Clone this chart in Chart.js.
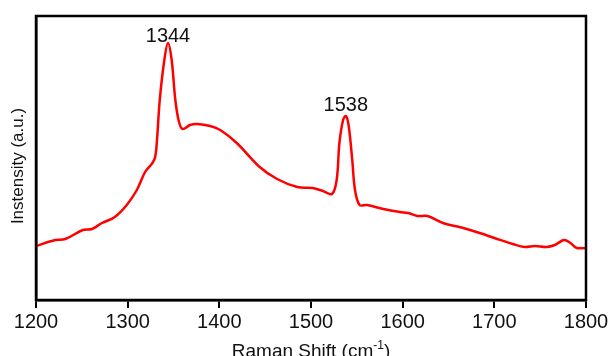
<!DOCTYPE html>
<html>
<head>
<meta charset="utf-8">
<script src="https://cdn.jsdelivr.net/npm/chart.js@4"></script>
<style>
  html, body { margin: 0; padding: 0; background: #fff; }
  #wrap { width: 609px; height: 356px; }
</style>
</head>
<body>
<div id="wrap"><canvas id="raman" width="609" height="356"></canvas></div>
<script>
// Raman shift (cm-1) and intensity (a.u.)
const shift = [
    1200, 1221, 1232, 1251, 1261, 1272, 1286, 1299, 1310, 1319,
    1327, 1330, 1332, 1335, 1340, 1344, 1348, 1352, 1356, 1360,
    1368, 1376, 1390, 1401, 1419, 1444, 1463, 1485, 1502, 1513,
    1523, 1528, 1531, 1535, 1538, 1541, 1545, 1548, 1553, 1561,
    1579, 1597, 1606, 1616, 1627, 1644, 1666, 1684, 1703, 1720,
    1733, 1744, 1757, 1766, 1776, 1783, 1790, 1800
];
const intensity = [
    54, 60, 61, 70, 71, 77, 83, 95, 110, 128,
    137, 143, 160, 200, 240, 257, 240, 200, 178, 171,
    175, 176, 174, 170, 157, 133, 121, 113, 112, 109,
    106, 120, 157, 180, 184, 175, 140, 110, 95, 95,
    91, 88, 87, 84, 84, 77, 72, 67, 61, 56,
    53, 54, 53, 55, 60, 57, 52, 52
];
const xTicks = [1200, 1300, 1400, 1500, 1600, 1700, 1800];
const peakLabels = [1344, 1538];
const peakGap = [1, 5];

const fontFamily = '"Liberation Sans", Arial, sans-serif';

// frame around the plot, peak labels and axis titles
const framePlugin = {
    id: 'frame',
    afterDatasetsDraw(chart) {
        const { ctx, chartArea: a, scales } = chart;
        ctx.save();
        ctx.strokeStyle = '#000';
        ctx.lineWidth = 2.5;
        ctx.strokeRect(a.left, a.top, a.right - a.left, a.bottom - a.top);

        ctx.fillStyle = '#111';
        ctx.font = '20px ' + fontFamily;
        ctx.textAlign = 'center';
        ctx.textBaseline = 'alphabetic';
        peakLabels.forEach((p, k) => {
            const i = shift.indexOf(p);
            const px = scales.x.getPixelForValue(p);
            const py = scales.y.getPixelForValue(intensity[i]);
            ctx.fillText(String(p), px, py - peakGap[k]);
        });

        // x title with superscript
        const main = 'Raman Shift (cm';
        const sup = '-1';
        const end = ')';
        ctx.font = '19px ' + fontFamily;
        const wMain = ctx.measureText(main).width;
        const wEnd = ctx.measureText(end).width;
        ctx.font = '12px ' + fontFamily;
        const wSup = ctx.measureText(sup).width;
        const total = wMain + wSup + wEnd;
        let tx = (a.left + a.right) / 2 - total / 2;
        const ty = 357;
        ctx.textAlign = 'left';
        ctx.font = '19px ' + fontFamily;
        ctx.fillText(main, tx, ty);
        tx += wMain;
        ctx.font = '12px ' + fontFamily;
        ctx.fillText(sup, tx, ty - 8);
        tx += wSup;
        ctx.font = '19px ' + fontFamily;
        ctx.fillText(end, tx, ty);

        // y title
        ctx.translate(18, 166);
        ctx.rotate(-Math.PI / 2);
        ctx.font = '17px ' + fontFamily;
        ctx.textAlign = 'center';
        ctx.textBaseline = 'middle';
        ctx.fillText('Instensity (a.u.)', 0, 0);
        ctx.restore();
    }
};

new Chart(document.getElementById('raman').getContext('2d'), {
    type: 'line',
    data: {
        datasets: [{
            data: shift.map((s, i) => ({ x: s, y: intensity[i] })),
            borderColor: '#ff0000',
            borderWidth: 2.5,
            pointRadius: 0,
            tension: 0.35,
            fill: false
        }]
    },
    options: {
        responsive: false,
        animation: false,
        layout: { padding: { top: 16, right: 23, left: 0, bottom: 0 } },
        plugins: {
            legend: { display: false },
            tooltip: { enabled: false }
        },
        scales: {
            x: {
                type: 'linear',
                min: 1200,
                max: 1800,
                afterBuildTicks: scale => { scale.ticks = xTicks.map(v => ({ value: v })); },
                afterFit: scale => { scale.height = 56; scale.paddingRight = 0; scale.paddingLeft = 0; },
                grid: {
                    drawOnChartArea: false,
                    drawTicks: true,
                    tickLength: 8,
                    color: '#000',
                    lineWidth: 2
                },
                border: { display: true, color: '#000', width: 2.5 },
                ticks: {
                    color: '#111',
                    font: { family: fontFamily, size: 20 },
                    padding: 2,
                    maxRotation: 0,
                    callback: v => String(v)
                },
                title: { display: false }
            },
            y: {
                min: 0,
                max: 284,
                afterFit: scale => { scale.width = 36; },
                grid: { display: false },
                border: { display: true, color: '#000', width: 2.5 },
                ticks: { display: false },
                title: { display: false }
            }
        }
    },
    plugins: [framePlugin]
});
</script>
</body>
</html>
